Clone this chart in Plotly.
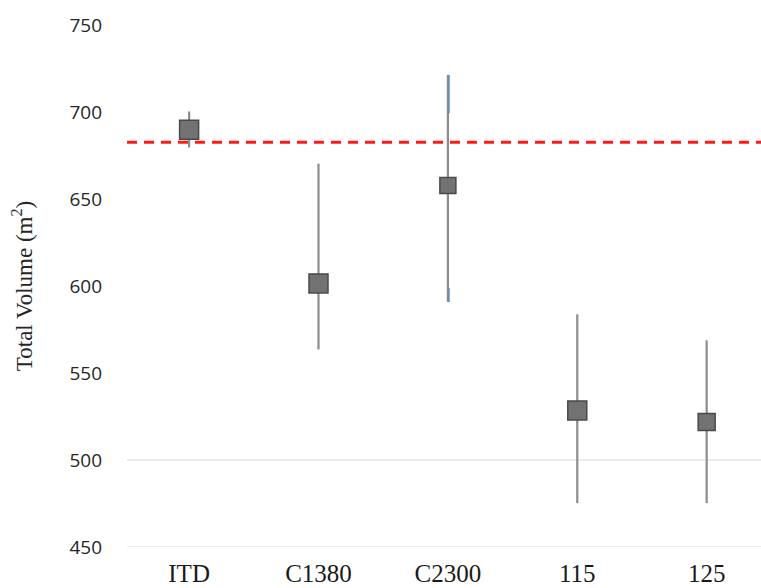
import plotly.graph_objects as go

# Category labels and summary statistics (mean with lower/upper bounds)
categories = ["ITD", "C1380", "C2300", "115", "125"]
means = [689.8, 601.5, 657.7, 528.5, 521.9]
upper = [700.3, 670.3, 721.3, 583.7, 568.8]
lower = [679.6, 563.6, 590.8, 475.2, 475.2]
marker_sizes = [19, 19, 16, 19, 17]

reference_value = 682.6
grid_values = [450, 500]
y_ticks = [450, 500, 550, 600, 650, 700, 750]

x_pos = list(range(len(categories)))

fig = go.Figure()

# horizontal guide lines
for g in grid_values:
    fig.add_shape(type="line", xref="paper", x0=0, x1=1, yref="y", y0=g, y1=g,
                  line=dict(color="#d9d9d9", width=1), layer="below")

# min/max ranges
for xi, lo, hi in zip(x_pos, lower, upper):
    fig.add_trace(go.Scatter(
        x=[xi, xi], y=[lo, hi], mode="lines",
        line=dict(color="#8c8c8c", width=2.2),
        hoverinfo="skip", showlegend=False))

# thin blue edge visible along the ends of the C2300 range
fig.add_trace(go.Scatter(
    x=[x_pos[2] + 0.009, x_pos[2] + 0.009, None, x_pos[2] + 0.009, x_pos[2] + 0.009],
    y=[upper[2], upper[2] - 22, None, lower[2] + 8, lower[2]],
    mode="lines", line=dict(color="#5b87c9", width=1.3),
    hoverinfo="skip", showlegend=False))

# means
fig.add_trace(go.Scatter(
    x=x_pos, y=means, mode="markers",
    marker=dict(symbol="square", size=marker_sizes, color="#727272", opacity=1,
                line=dict(color="#4a4a4a", width=1.5)),
    opacity=1, showlegend=False))

# reference level
fig.add_shape(type="line", xref="paper", x0=0, x1=1, yref="y",
              y0=reference_value, y1=reference_value,
              line=dict(color="#ff1a1a", width=3, dash="10px,7px"))

fig.update_layout(
    width=761, height=588,
    margin=dict(l=127, r=0, t=25, b=41),
    plot_bgcolor="white", paper_bgcolor="white",
    showlegend=False,
)
fig.update_xaxes(
    range=[-0.48, 4.42], tickmode="array", tickvals=x_pos, ticktext=categories,
    showgrid=False, zeroline=False, showline=False, ticks="",
    tickfont=dict(family="Liberation Serif", size=25, color="#1a1a1a"),
    ticklabelstandoff=9,
)
fig.update_yaxes(
    range=[450, 750], tickmode="array", tickvals=y_ticks,
    showgrid=False, zeroline=False, showline=False, ticks="",
    tickfont=dict(family="Open Sans", size=19, color="#262626"),
    ticklabelstandoff=24,
    title=dict(text="Total Volume (m<sup>2</sup>)",
               font=dict(family="Liberation Serif", size=23, color="#262626"),
               standoff=30),
)

fig.write_html("out.html")
